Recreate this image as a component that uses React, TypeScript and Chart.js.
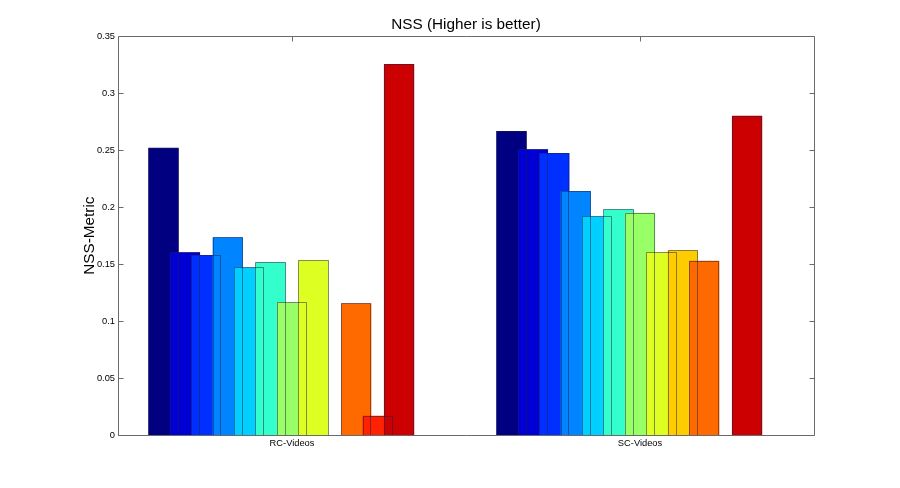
import React, { useEffect, useRef } from 'react';
import { Chart, registerables } from 'chart.js';

Chart.register(...registerables);

// ---- data ----
const categories = ['RC-Videos', 'SC-Videos'];
const rcVideos: (number | null)[] = [0.252, 0.1604, 0.158, 0.1735, 0.1472, 0.1516, 0.1166, 0.1534, null, 0.1157, 0.0172, 0.3255];
const scVideos: (number | null)[] = [0.2667, 0.2507, 0.2474, 0.2141, 0.1919, 0.1981, 0.1951, 0.1604, 0.1622, 0.153, null, 0.2801];
const seriesColors = [
  '#000080', '#0000D4', '#0030FF', '#0084FF', '#00CFFF', '#33FFCC',
  '#99FF66', '#DDFF22', '#FFCC00', '#FF6A00', '#FF2200', '#CC0000',
];
const yTickValues = [0, 0.05, 0.1, 0.15, 0.2, 0.25, 0.3, 0.35];
const titleText = 'NSS (Higher is better)';
const yAxisTitle = 'NSS-Metric';

// MATLAB-like grouped bar layout: 13 slots in a 0.8-wide group, 12 used
const slotCount = 13;
const groupWidth = 0.8;
const slotOffset = (i: number) => (i - (slotCount - 1) / 2) * (groupWidth / slotCount);

const FONT = "'Liberation Sans', Arial, Helvetica, sans-serif";
const AXIS_COLOR = '#6a6a6a';

const matlabAxes = {
  id: 'matlabAxes',
  beforeDatasetsDraw(chart: any) {
    const { ctx, chartArea } = chart;
    const xs = chart.scales.x;
    ctx.save();
    ctx.strokeStyle = AXIS_COLOR;
    ctx.lineWidth = 1;
    ctx.beginPath();
    xs.ticks.forEach((t: any) => {
      const px = Math.round(xs.getPixelForValue(t.value)) + 0.5;
      ctx.moveTo(px, chartArea.bottom);
      ctx.lineTo(px, chartArea.bottom - 5);
    });
    ctx.stroke();
    ctx.restore();
  },
  afterDatasetsDraw(chart: any) {
    const { ctx, chartArea } = chart;
    ctx.save();
    // bar edges on top of all faces
    ctx.strokeStyle = 'rgba(30,30,70,0.5)';
    ctx.lineWidth = 1;
    chart.data.datasets.forEach((ds: any, di: number) => {
      const meta = chart.getDatasetMeta(di);
      meta.data.forEach((el: any, j: number) => {
        const raw = ds.data[j];
        if (!raw || raw.y === null || raw.y === undefined) return;
        const { x, y, base, width } = el.getProps(['x', 'y', 'base', 'width'], true);
        const l = Math.round(x - width / 2) + 0.5;
        const r = Math.round(x + width / 2) - 0.5;
        const t = Math.round(y) + 0.5;
        const b = Math.round(base);
        ctx.beginPath();
        ctx.moveTo(l, b);
        ctx.lineTo(l, t);
        ctx.lineTo(r, t);
        ctx.lineTo(r, b);
        ctx.stroke();
      });
    });
    // axes box
    const L = Math.round(chartArea.left) + 0.5;
    const R = Math.round(chartArea.right) + 0.5;
    const T = Math.round(chartArea.top) + 0.5;
    const B = Math.round(chartArea.bottom) + 0.5;
    ctx.strokeStyle = AXIS_COLOR;
    ctx.beginPath();
    ctx.rect(L, T, R - L, B - T);
    // y ticks inward on both sides
    const ys = chart.scales.y;
    ys.ticks.forEach((tk: any) => {
      const py = Math.round(ys.getPixelForValue(tk.value)) + 0.5;
      ctx.moveTo(L, py);
      ctx.lineTo(L + 5, py);
      ctx.moveTo(R, py);
      ctx.lineTo(R - 5, py);
    });
    // x ticks at top
    const xs = chart.scales.x;
    xs.ticks.forEach((tk: any) => {
      const px = Math.round(xs.getPixelForValue(tk.value)) + 0.5;
      ctx.moveTo(px, T);
      ctx.lineTo(px, T + 5);
    });
    ctx.stroke();
    // title centred over the axes box
    ctx.fillStyle = '#000';
    ctx.font = `15.3px ${FONT}`;
    ctx.textAlign = 'center';
    ctx.textBaseline = 'alphabetic';
    ctx.fillText(titleText, (chartArea.left + chartArea.right) / 2, chartArea.top - 7.3);
    ctx.restore();
  },
};

export default function App() {
  const canvasRef = useRef<HTMLCanvasElement | null>(null);

  useEffect(() => {
    if (!canvasRef.current) return;
    const seriesValues = [rcVideos, scVideos];
    const datasets = seriesColors.map((color, i) => ({
      label: `Series ${i + 1}`,
      data: categories.map((_, j) => ({ x: j + 1 + slotOffset(i), y: seriesValues[j][i] })),
      backgroundColor: color,
      borderWidth: 0,
      order: seriesColors.length - i,
      grouped: false,
      barPercentage: 1.415,
      categoryPercentage: 1,
    }));

    const chart = new Chart(canvasRef.current, {
      type: 'bar',
      data: { datasets } as any,
      plugins: [matlabAxes],
      options: {
        animation: false,
        responsive: true,
        maintainAspectRatio: false,
        layout: { padding: { left: 0, right: 86, top: 36, bottom: 0 } },
        plugins: {
          legend: { display: false },
          tooltip: { enabled: false },
          title: { display: false },
        },
        scales: {
          x: {
            type: 'linear',
            min: 0.5,
            max: 2.5,
            offset: false,
            grid: { display: false, drawTicks: false },
            border: { display: false },
            afterBuildTicks: (axis: any) => {
              axis.ticks = categories.map((_, i) => ({ value: i + 1 }));
            },
            afterFit: (s: any) => {
              s.height = 52.7;
            },
            ticks: {
              autoSkip: false,
              maxRotation: 0,
              padding: 3,
              color: '#000',
              font: { family: FONT, size: 9.3 },
              callback: (v: any) => categories[Math.round(Number(v)) - 1] ?? '',
            },
          },
          y: {
            type: 'linear',
            min: 0,
            max: 0.35,
            grid: { display: false, drawTicks: false },
            border: { display: false },
            afterBuildTicks: (axis: any) => {
              axis.ticks = yTickValues.map((v) => ({ value: v }));
            },
            afterFit: (s: any) => {
              s.width = 118;
            },
            ticks: {
              padding: 3,
              color: '#000',
              font: { family: FONT, size: 9.3 },
              callback: (v: any) => String(parseFloat(Number(v).toFixed(4))),
            },
            title: {
              display: true,
              text: yAxisTitle,
              color: '#000',
              font: { family: FONT, size: 15.3, weight: 'normal' },
              padding: { top: 80.8, bottom: 0 },
            },
          },
        },
      } as any,
    });
    return () => chart.destroy();
  }, []);

  return (
    <div style={{ position: 'absolute', left: 0, top: 0, width: 900, height: 488, background: '#fff' }}>
      <canvas ref={canvasRef} />
    </div>
  );
}
